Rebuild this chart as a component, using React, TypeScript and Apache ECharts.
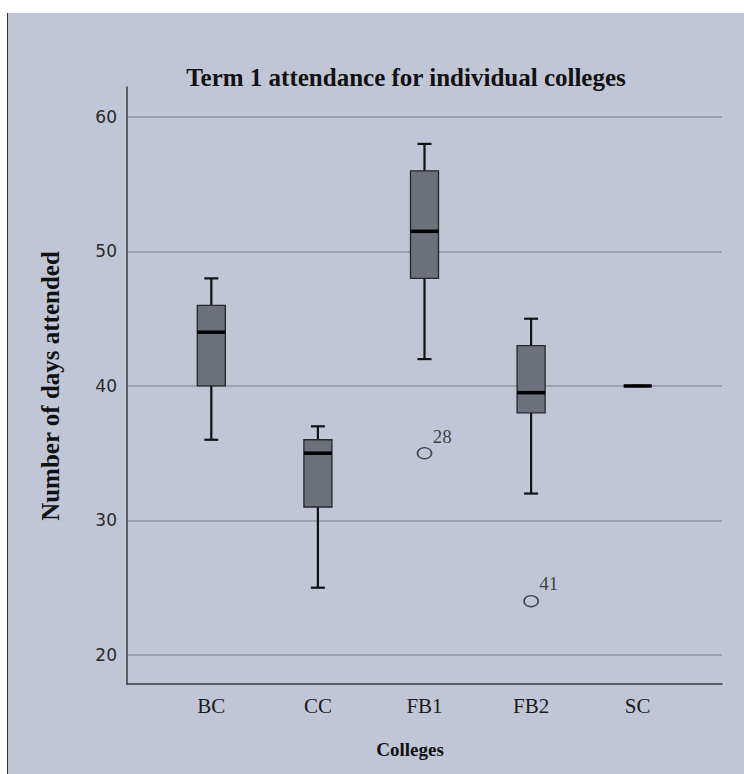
import { useEffect, useRef } from 'react';
import * as echarts from 'echarts';

const colleges = ['BC', 'CC', 'FB1', 'FB2', 'SC'];
const whiskerLow = [36, 25, 42, 32, 40];
const quartile1 = [40, 31, 48, 38, 40];
const medians = [44, 35, 51.5, 39.5, 40];
const quartile3 = [46, 36, 56, 43, 40];
const whiskerHigh = [48, 37, 58, 45, 40];
const outlierColleges = ['FB1', 'FB2'];
const outlierValues = [35, 24];
const outlierCases = ['28', '41'];

const chartTitle = 'Term 1 attendance for individual colleges';
const yTitle = 'Number of days attended';
const xTitle = 'Colleges';

const Y_MIN = 17.84;
const Y_MAX = 62.23;

export default function App() {
  const ref = useRef<HTMLDivElement>(null);
  useEffect(() => {
    if (!ref.current) return;
    const chart = echarts.init(ref.current, undefined, { renderer: 'svg' });
    const boxData = colleges.map((c, i) => [i, whiskerLow[i], quartile1[i], medians[i], quartile3[i], whiskerHigh[i]]);
    const serif = 'Liberation Serif';
    chart.setOption({
      animation: false,
      backgroundColor: '#c1c6d6',
      grid: [
        { left: 127, right: 22, top: 87, bottom: 90 },
        { left: 158, right: 53, top: 87, bottom: 90 },
      ],
      xAxis: [
        {
          gridIndex: 0, type: 'value', min: 0, max: 1,
          axisLine: { show: true, lineStyle: { color: '#3a3a3a', width: 1.5 } },
          axisTick: { show: false }, axisLabel: { show: false }, splitLine: { show: false },
        },
        {
          gridIndex: 1, type: 'category', data: colleges,
          axisLine: { show: false }, axisTick: { show: false }, splitLine: { show: false },
          axisLabel: { fontSize: 21, fontFamily: serif, color: '#1a1a1a', margin: 11 },
        },
      ],
      yAxis: [
        {
          gridIndex: 0, type: 'value', min: Y_MIN, max: Y_MAX, splitNumber: 5,
          axisLine: { show: true, lineStyle: { color: '#3a3a3a', width: 1.5 } },
          axisTick: { show: false },
          axisLabel: { fontSize: 17, fontFamily: 'DejaVu Sans', color: '#2a2a2a', margin: 10, showMinLabel: false, showMaxLabel: false },
          splitLine: { show: true, showMinLine: false, showMaxLine: false, lineStyle: { color: '#8d93a1', width: 1.5 } },
        },
        { gridIndex: 1, type: 'value', min: Y_MIN, max: Y_MAX, show: false, splitLine: { show: false } },
      ],
      series: [
        {
          type: 'custom',
          xAxisIndex: 1, yAxisIndex: 1,
          data: boxData,
          encode: { x: 0, y: [1, 2, 3, 4, 5] },
          renderItem: (params: any, api: any) => {
            const idx = api.value(0);
            const lo = api.coord([idx, api.value(1)]);
            const q1 = api.coord([idx, api.value(2)]);
            const md = api.coord([idx, api.value(3)]);
            const q3 = api.coord([idx, api.value(4)]);
            const hi = api.coord([idx, api.value(5)]);
            const cx = lo[0];
            const hw = 14;
            const cw = 7;
            const wStyle = { stroke: '#111', lineWidth: 2.2 };
            return {
              type: 'group',
              children: [
                { type: 'line', shape: { x1: cx, y1: q3[1], x2: cx, y2: hi[1] }, style: wStyle },
                { type: 'line', shape: { x1: cx, y1: q1[1], x2: cx, y2: lo[1] }, style: wStyle },
                { type: 'line', shape: { x1: cx - cw, y1: hi[1], x2: cx + cw, y2: hi[1] }, style: wStyle },
                { type: 'line', shape: { x1: cx - cw, y1: lo[1], x2: cx + cw, y2: lo[1] }, style: wStyle },
                {
                  type: 'rect',
                  shape: { x: cx - hw, y: q3[1], width: hw * 2, height: q1[1] - q3[1] },
                  style: { fill: '#6c717b', stroke: '#262626', lineWidth: 1.3 },
                },
                {
                  type: 'line',
                  shape: { x1: cx - hw, y1: md[1], x2: cx + hw, y2: md[1] },
                  style: { stroke: '#000', lineWidth: 3.5 },
                },
              ],
            };
          },
        },
        {
          type: 'scatter',
          xAxisIndex: 1, yAxisIndex: 1,
          symbol: 'circle',
          symbolSize: [14, 11],
          itemStyle: { color: 'rgba(0,0,0,0)', borderColor: '#222', borderWidth: 1.5 },
          data: outlierColleges.map((c, i) => [c, outlierValues[i]]),
          label: {
            show: true,
            position: [16, -11],
            align: 'left',
            verticalAlign: 'middle',
            fontFamily: serif,
            fontSize: 19,
            color: '#1a1a1a',
            formatter: (p: any) => outlierCases[p.dataIndex],
          },
        },
      ],
      graphic: [
        { type: 'rect', shape: { x: 0, y: 0, width: 744, height: 13 }, style: { fill: '#ffffff' }, z: 100 },
        { type: 'rect', shape: { x: 0, y: 0, width: 7, height: 774 }, style: { fill: '#ffffff' }, z: 100 },
        { type: 'line', shape: { x1: 7.5, y1: 13, x2: 7.5, y2: 774 }, style: { stroke: '#333', lineWidth: 1 }, z: 100 },
        {
          type: 'text', x: 406, y: 77,
          style: { text: chartTitle, font: `bold 25px "${serif}"`, fill: '#111', textAlign: 'center', textVerticalAlign: 'middle' },
          z: 100,
        },
        {
          type: 'text', x: 50, y: 386, rotation: Math.PI / 2,
          style: { text: yTitle, font: `bold 25px "${serif}"`, fill: '#111', textAlign: 'center', textVerticalAlign: 'middle' },
          z: 100,
        },
        {
          type: 'text', x: 410, y: 749,
          style: { text: xTitle, font: `bold 19px "${serif}"`, fill: '#111', textAlign: 'center', textVerticalAlign: 'middle' },
          z: 100,
        },
      ],
    });
    return () => chart.dispose();
  }, []);
  return <div ref={ref} style={{ position: 'absolute', left: 0, top: 0, width: 744, height: 774 }} />;
}
